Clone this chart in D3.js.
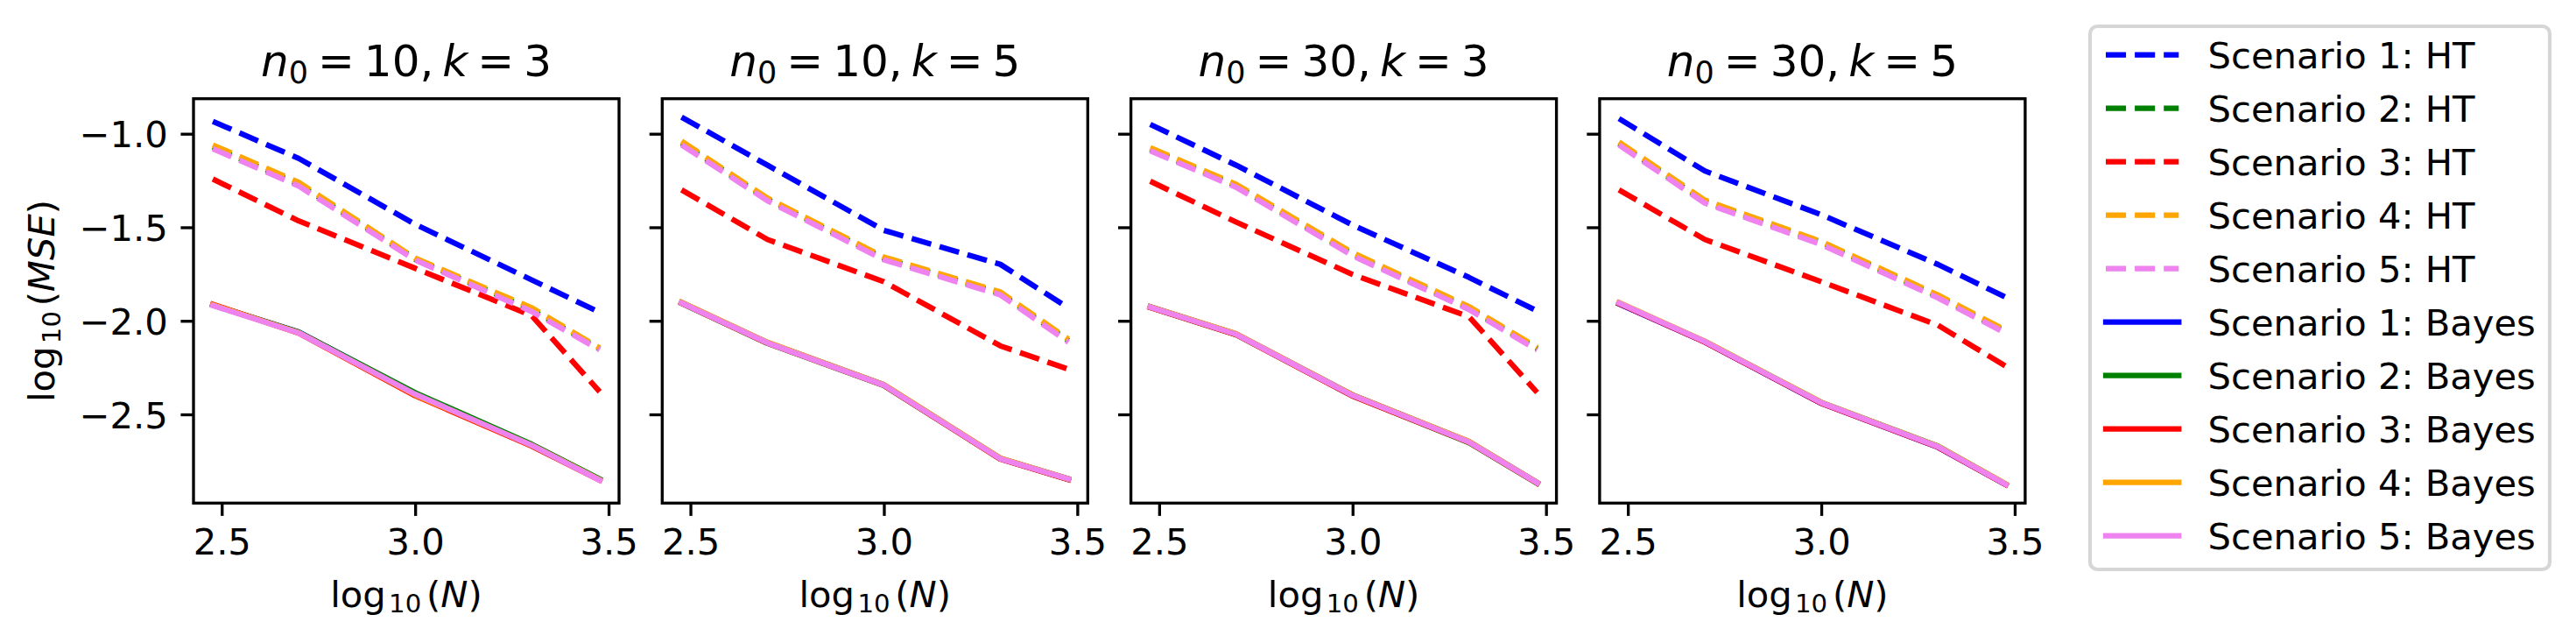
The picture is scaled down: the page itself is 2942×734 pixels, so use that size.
<html>
<head>
<meta charset="utf-8">
<script src="https://d3js.org/d3.v7.min.js"></script>
<style>
    body { margin: 0; background: #fff; }
    text { font-family: "DejaVu Sans", sans-serif; fill: #000; }
</style>
</head>
<body>
<svg id="chart" width="2942" height="734"></svg>
<script>

// x values are log10(N) for N = 300, 500, 1000, 2000, 3000
var logN = [2.477, 2.699, 3.0, 3.301, 3.477];
var n0Values = ["10", "10", "30", "30"];
var kValues = ["3", "5", "3", "5"];
var scenarioNames = ["Scenario 1", "Scenario 2", "Scenario 3", "Scenario 4", "Scenario 5"];
var xTicks = [2.5, 3.0, 3.5];
var yTicks = [-1.0, -1.5, -2.0, -2.5];

// log10(MSE), one row per scenario (1..5)
var htN10K3 = [
    [-0.934, -1.132, -1.484, -1.781, -1.955],
    [-1.070, -1.270, -1.670, -1.940, -2.150],
    [-1.242, -1.466, -1.719, -1.972, -2.379],
    [-1.060, -1.260, -1.665, -1.930, -2.145],
    [-1.080, -1.280, -1.675, -1.950, -2.155]
];
var bayesN10K3 = [
    [-1.915, -2.060, -2.388, -2.662, -2.847],
    [-1.916, -2.061, -2.384, -2.660, -2.846],
    [-1.912, -2.066, -2.400, -2.669, -2.851],
    [-1.915, -2.063, -2.396, -2.665, -2.849],
    [-1.918, -2.065, -2.392, -2.665, -2.852]
];
var htN10K5 = [
    [-0.911, -1.168, -1.516, -1.698, -1.931],
    [-1.050, -1.350, -1.666, -1.854, -2.106],
    [-1.300, -1.565, -1.791, -2.134, -2.259],
    [-1.040, -1.344, -1.659, -1.846, -2.098],
    [-1.059, -1.358, -1.674, -1.861, -2.114]
];
var bayesN10K5 = [
    [-1.902, -2.116, -2.342, -2.735, -2.845],
    [-1.906, -2.120, -2.346, -2.738, -2.848],
    [-1.905, -2.119, -2.345, -2.739, -2.848],
    [-1.901, -2.115, -2.341, -2.734, -2.844],
    [-1.905, -2.118, -2.344, -2.737, -2.846]
];
var htN30K3 = [
    [-0.950, -1.168, -1.488, -1.768, -1.947],
    [-1.083, -1.278, -1.644, -1.932, -2.149],
    [-1.254, -1.472, -1.752, -1.978, -2.383],
    [-1.075, -1.270, -1.636, -1.924, -2.142],
    [-1.091, -1.286, -1.652, -1.940, -2.156]
];
var bayesN30K3 = [
    [-1.925, -2.070, -2.396, -2.646, -2.864],
    [-1.928, -2.074, -2.401, -2.651, -2.869],
    [-1.928, -2.074, -2.402, -2.649, -2.867],
    [-1.925, -2.069, -2.396, -2.645, -2.864],
    [-1.927, -2.072, -2.399, -2.648, -2.866]
];
var htN30K5 = [
    [-0.919, -1.199, -1.433, -1.698, -1.874],
    [-1.052, -1.363, -1.581, -1.869, -2.058],
    [-1.300, -1.565, -1.791, -2.023, -2.243],
    [-1.044, -1.355, -1.576, -1.861, -2.051],
    [-1.060, -1.371, -1.592, -1.877, -2.066]
];
var bayesN30K5 = [
    [-1.909, -2.113, -2.441, -2.675, -2.875],
    [-1.906, -2.110, -2.436, -2.669, -2.873],
    [-1.907, -2.113, -2.440, -2.674, -2.876],
    [-1.902, -2.109, -2.436, -2.670, -2.872],
    [-1.905, -2.111, -2.438, -2.672, -2.874]
];

var htPanels = [htN10K3, htN10K5, htN30K3, htN30K5];
var bayesPanels = [bayesN10K3, bayesN10K5, bayesN30K3, bayesN30K5];
var colors = ["blue", "green", "red", "orange", "violet"];

// layout (pixels, figure rendered at 300 dpi)
var fs = 41.67;            // 10pt
var lw = 6.25;             // 1.5pt line width
var dash = "23.1,10";
var axLeft0 = 221, axStep = 535.3, axTop = 112.7;
var width = 486, height = 461.6;
var tickLen = 14.6, spineW = 3.33;

var svg = d3.select("#chart");
svg.append("rect").attr("width", 2942).attr("height", 734).attr("fill", "#fff");

// shared scales with matplotlib style 5% margins
var xPad = (d3.max(logN) - d3.min(logN)) * 0.05;
var x = d3.scaleLinear()
    .domain([d3.min(logN) - xPad, d3.max(logN) + xPad])
    .range([0, width]);

var allY = d3.merge(htPanels.concat(bayesPanels).map(function(p) { return d3.merge(p); }));
var yPad = (d3.max(allY) - d3.min(allY)) * 0.05;
var y = d3.scaleLinear()
    .domain([d3.min(allY) - yPad, d3.max(allY) + yPad])
    .range([height, 0]);

var line = d3.line()
    .x(function(d, i) { return x(logN[i]); })
    .y(function(d) { return y(d); });

// writes mathtext-like pieces into a text element
function mathText(t, parts, size) {
    var shift = 0;
    parts.forEach(function(p) {
        var s = t.append("tspan").text(p.t);
        var target = p.sub ? size * 0.16 : 0;
        s.attr("dy", target - shift);
        shift = target;
        if (p.dx) s.attr("dx", p.dx * size);
        if (p.sub) s.style("font-size", (size * 0.7) + "px");
        if (p.it) s.style("font-style", "italic");
    });
}

function logLabel(inner) {
    var parts = [{t: "log"}, {t: "10", sub: true, dx: 0.08}, {t: "(", dx: 0.14}];
    inner.forEach(function(s) { parts.push({t: s, it: true}); });
    parts.push({t: ")"});
    return parts;
}

htPanels.forEach(function(ht, pi) {
    var g = svg.append("g")
        .attr("transform", "translate(" + (axLeft0 + pi * axStep) + "," + axTop + ")");

    ht.forEach(function(vals, si) {
        g.append("path")
            .datum(vals)
            .attr("d", line)
            .attr("fill", "none")
            .attr("stroke", colors[si])
            .attr("stroke-width", lw)
            .attr("stroke-dasharray", dash)
            .attr("stroke-linejoin", "round");
    });
    bayesPanels[pi].forEach(function(vals, si) {
        g.append("path")
            .datum(vals)
            .attr("d", line)
            .attr("fill", "none")
            .attr("stroke", colors[si])
            .attr("stroke-width", lw)
            .attr("stroke-linejoin", "round")
            .attr("stroke-linecap", "square");
    });

    // axes
    var xa = g.append("g")
        .attr("transform", "translate(0," + height + ")")
        .call(d3.axisBottom(x).tickValues(xTicks).tickFormat(d3.format(".1f"))
            .tickSize(tickLen).tickPadding(14.5));
    var ya = g.append("g")
        .call(d3.axisLeft(y).tickValues(yTicks)
            .tickFormat(pi === 0 ? d3.format(".1f") : function() { return ""; })
            .tickSize(tickLen).tickPadding(14.6));
    [xa, ya].forEach(function(a) {
        a.select(".domain").remove();
        a.selectAll(".tick line").attr("stroke", "#000").attr("stroke-width", spineW);
        a.selectAll(".tick text").style("font-size", fs + "px")
            .attr("font-family", null).attr("fill", "#000");
    });
    ya.selectAll(".tick text").attr("dy", "0.36em");

    g.append("rect")
        .attr("width", width).attr("height", height)
        .attr("fill", "none").attr("stroke", "#000").attr("stroke-width", spineW);

    // title
    var title = g.append("text")
        .attr("x", width / 2).attr("y", -25.4)
        .attr("text-anchor", "middle")
        .style("font-size", "50px");
    mathText(title, [
        {t: "n", it: true}, {t: "0", sub: true},
        {t: "=", dx: 0.22}, {t: n0Values[pi], dx: 0.22},
        {t: ","}, {t: "k", it: true, dx: 0.2},
        {t: "=", dx: 0.22}, {t: kValues[pi], dx: 0.22}
    ], 50);

    // x label
    var xl = g.append("text")
        .attr("x", width / 2).attr("y", 692.7 - axTop)
        .attr("text-anchor", "middle")
        .style("font-size", fs + "px");
    mathText(xl, logLabel(["N"]), fs);
});

// y label
var yl = svg.append("text")
    .attr("transform", "translate(62," + (axTop + height / 2) + ") rotate(-90)")
    .attr("text-anchor", "middle")
    .style("font-size", fs + "px");
mathText(yl, logLabel(["M", "S", "E"]), fs);

// legend
var lg = svg.append("g").attr("transform", "translate(2387,30)");
lg.append("rect")
    .attr("width", 525).attr("height", 620)
    .attr("rx", 8.3).attr("ry", 8.3)
    .attr("fill", "#fff").attr("fill-opacity", 0.8)
    .attr("stroke", "#d6d6d6").attr("stroke-width", 4.17);

var entries = [];
["HT", "Bayes"].forEach(function(m) {
    scenarioNames.forEach(function(s, si) {
        entries.push({label: s + ": " + m, color: colors[si], dashed: m === "HT"});
    });
});

entries.forEach(function(e, i) {
    var cy = 32.7 + i * 61;
    lg.append("line")
        .attr("x1", 18).attr("x2", 101.3)
        .attr("y1", cy).attr("y2", cy)
        .attr("stroke", e.color)
        .attr("stroke-width", lw)
        .attr("stroke-dasharray", e.dashed ? dash : null)
        .attr("stroke-linecap", e.dashed ? "butt" : "square");
    lg.append("text")
        .attr("x", 134.6).attr("y", cy + 15.4)
        .style("font-size", fs + "px")
        .text(e.label);
});

</script>
</body>
</html>
